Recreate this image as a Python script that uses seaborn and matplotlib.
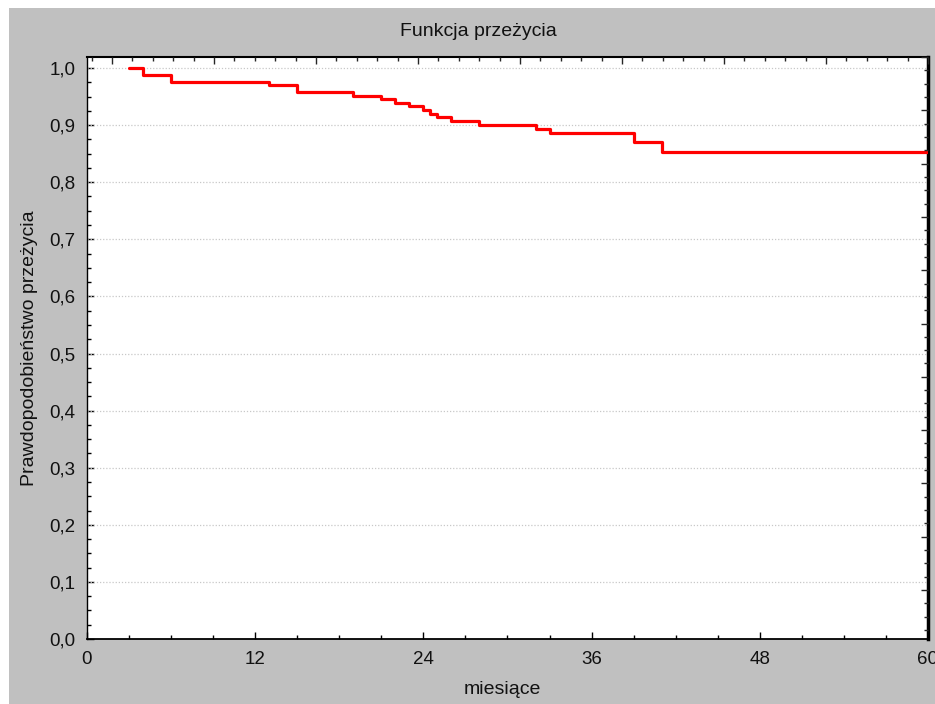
import numpy as np
import pandas as pd
import matplotlib
matplotlib.use("Agg")
import matplotlib.pyplot as plt
from matplotlib.patches import Rectangle
from matplotlib.ticker import MultipleLocator, FixedLocator, FuncFormatter
import seaborn as sns

# ---- data ----
months = [3, 4, 6, 13, 15, 19, 21, 22, 23, 24, 24.5, 25, 26, 28, 32, 33, 39, 41, 60]
survival = [1.0, 0.988, 0.976, 0.971, 0.958, 0.951, 0.945, 0.939, 0.933, 0.926,
            0.919, 0.914, 0.907, 0.901, 0.893, 0.886, 0.871, 0.853, 0.853]
x_ticks = [0, 12, 24, 36, 48, 60]
y_ticks = [0.0, 0.1, 0.2, 0.3, 0.4, 0.5, 0.6, 0.7, 0.8, 0.9, 1.0]
title = "Funkcja przeżycia"
xlabel = "miesiące"
ylabel = "Prawdopodobieństwo przeżycia"

sns.set_theme(style="ticks")
plt.rcParams["font.family"] = ["Liberation Sans", "DejaVu Sans"]
plt.rcParams["font.size"] = 13.5

W, H = 935, 704
fig = plt.figure(figsize=(W / 100, H / 100), dpi=100, facecolor="white")
# gray panel
fig.patches.append(Rectangle((9 / W, 0), 1 - 9 / W, (H - 8) / H, transform=fig.transFigure,
                             facecolor="#c0c0c0", edgecolor="none", zorder=-10))

left, right, top, bottom = 87, 928, 57, 639
ax = fig.add_axes([left / W, (H - bottom) / H, (right - left) / W, (bottom - top) / H])
ax.set_zorder(5)
ax.set_facecolor("white")

df = pd.DataFrame({"miesiace": months, "przezycie": survival})
sns.lineplot(data=df, x="miesiace", y="przezycie", ax=ax, color="#ff0000", linewidth=2.3,
             drawstyle="steps-post", estimator=None, sort=False, zorder=5)

ymax = (bottom - top) / 571.0
ax.set_xlim(0, 60)
ax.set_ylim(0, ymax)

ax.xaxis.set_major_locator(FixedLocator(x_ticks))
ax.xaxis.set_minor_locator(MultipleLocator(3))
ax.yaxis.set_major_locator(FixedLocator(y_ticks))
ax.yaxis.set_minor_locator(MultipleLocator(0.025))
ax.yaxis.set_major_formatter(FuncFormatter(lambda v, p: f"{v:.1f}".replace(".", ",")))
ax.xaxis.set_major_formatter(FuncFormatter(lambda v, p: f"{v:.0f}"))

ax.tick_params(axis="both", which="major", direction="in", length=5, width=1, color="black",
               labelsize=13.5, pad=8.5, labelcolor="#111111")
ax.tick_params(axis="both", which="minor", direction="in", length=3, width=1, color="black")
ax.tick_params(top=False, right=False)

# grid: dotted horizontal lines at major y ticks
for yv in y_ticks[1:]:
    ax.axhline(yv, color="#c8c8c8", linestyle=(0, (1, 1.5)), linewidth=0.9, zorder=1)
ax.grid(False)

# spines
for s in ax.spines.values():
    s.set_color("black")
    s.set_visible(True)
ax.spines["left"].set_linewidth(1.0)
ax.spines["bottom"].set_linewidth(1.3)
ax.spines["top"].set_linewidth(1.5)
ax.spines["right"].set_linewidth(2.5)

# top mirror axis (own tick spacing)
axt = ax.twiny()
axt.set_xlim(0, 60)
step_x = 102 / 14.017
axt.xaxis.set_major_locator(FixedLocator([60 - k * step_x for k in range(9)]))
axt.xaxis.set_minor_locator(FixedLocator([60 - k * step_x / 5 for k in range(42)]))
axt.tick_params(axis="x", which="major", direction="in", length=5, width=1, labeltop=False)
axt.tick_params(axis="x", which="minor", direction="in", length=3, width=1)
for s in axt.spines.values():
    s.set_visible(False)

# right mirror axis (own tick spacing)
axr = ax.twinx()
axr.set_ylim(0, ymax)
step_y = 53.3 / 571.0
axr.yaxis.set_major_locator(FixedLocator([ymax - k * step_y for k in range(11)]))
axr.yaxis.set_minor_locator(FixedLocator([ymax - k * step_y / 4 for k in range(44)]))
axr.tick_params(axis="y", which="major", direction="in", length=5, width=1, labelright=False)
axr.tick_params(axis="y", which="minor", direction="in", length=3, width=1)
for s in axr.spines.values():
    s.set_visible(False)

ax.set_xlabel(xlabel, fontsize=14, color="#111111")
ax.xaxis.set_label_coords((502 - left) / (right - left), (bottom - 690) / (bottom - top))
ax.xaxis.label.set_va("center")
ax.set_ylabel(ylabel, fontsize=14, color="#111111")
ax.yaxis.set_label_coords((30 - left) / (right - left), 0.5)
ax.yaxis.label.set_va("center")

fig.text(478 / W, 1 - 32 / H, title, ha="center", va="center", fontsize=14, color="#111111")

fig.savefig("out.png", dpi=100, facecolor="white")
